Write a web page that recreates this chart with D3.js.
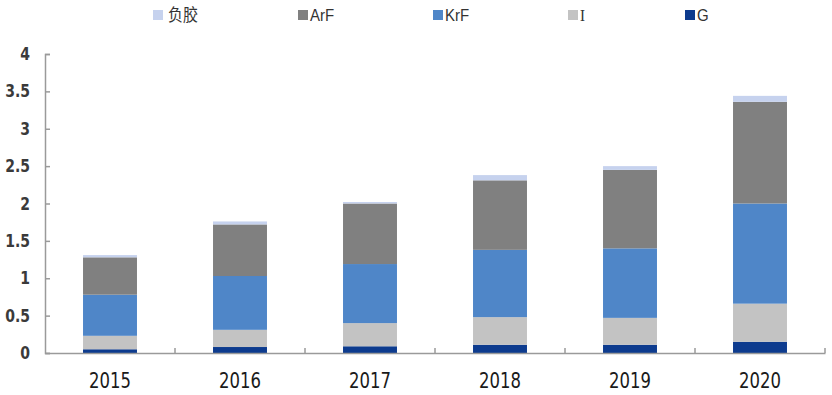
<!DOCTYPE html>
<html><head><meta charset="utf-8">
<script src="https://cdn.jsdelivr.net/npm/d3@7"></script>
<style>body{margin:0;background:#fff}svg{display:block}</style>
</head><body>
<svg id="c" width="832" height="395"></svg>
<script>
const years = ["2015","2016","2017","2018","2019","2020"];
const seriesNames = ["G","I","KrF","ArF","负胶"];
const G   = [0.05,0.08,0.09,0.11,0.11,0.15];
const I   = [0.18,0.23,0.31,0.37,0.36,0.51];
const KrF = [0.55,0.72,0.79,0.90,0.93,1.34];
const ArF = [0.50,0.69,0.81,0.93,1.05,1.36];
const Neg = [0.03,0.04,0.02,0.07,0.05,0.08];
const yTicks = [0,0.5,1,1.5,2,2.5,3,3.5,4];
const legendOrder = ["负胶","ArF","KrF","I","G"];
const colors = {"G":"#0d3b8e","I":"#c3c3c3","KrF":"#4f86c8","ArF":"#808080","负胶":"#c6d2ee"};

(function(){
const rows = years.map((yr,i)=>({year:yr,"G":G[i],"I":I[i],"KrF":KrF[i],"ArF":ArF[i],"负胶":Neg[i]}));
const stack = d3.stack().keys(seriesNames)(rows);

const svg = d3.select("#c");
const mLeft=45, mRight=825, mTop=54, mBottom=353;
const x = d3.scaleBand().domain(years).range([mLeft,mRight]).paddingInner(0.585).paddingOuter(0.2925);
const y = d3.scaleLinear().domain([0,4]).range([mBottom,mTop]);

svg.append("g").selectAll("g").data(stack).join("g")
  .attr("fill",d=>colors[d.key])
  .selectAll("rect").data(d=>d).join("rect")
  .attr("x",d=>x(d.data.year)).attr("width",x.bandwidth())
  .attr("y",d=>y(d[1])).attr("height",d=>y(d[0])-y(d[1]));

// y axis
const ya = svg.append("g").attr("transform",`translate(${mLeft},0)`)
  .call(d3.axisLeft(y).tickValues(yTicks).tickSize(-5).tickFormat(""));
ya.select(".domain").attr("stroke","#9a9a9a").attr("stroke-width",1.5);
ya.selectAll(".tick line").attr("stroke","#9a9a9a").attr("stroke-width",1.5);
svg.append("g").selectAll("text").data(yTicks).join("text")
  .attr("transform",d=>`translate(30,${y(d)}) scale(1,1.2)`)
  .attr("text-anchor","end").attr("dy","0.36em")
  .attr("font-family","DejaVu Sans").attr("font-weight","bold").attr("font-size",14).attr("fill","#3a3a3a")
  .text(d=>d);

// x axis
const xa = svg.append("g").attr("transform",`translate(0,${mBottom})`)
  .call(d3.axisBottom(x).tickSize(0).tickFormat(""));
xa.select(".domain").attr("stroke","#9a9a9a").attr("stroke-width",1.5);
const step = x.step();
const bounds = years.slice(1).map(d=>x(d)-x.paddingInner()*step/2);
xa.selectAll(".bt").data(bounds.concat([mRight])).join("line").attr("class","bt")
  .attr("x1",d=>d).attr("x2",d=>d).attr("y1",0).attr("y2",-5)
  .attr("stroke","#9a9a9a").attr("stroke-width",1.5);
svg.append("g").selectAll("text").data(years).join("text")
  .attr("transform",d=>`translate(${x(d)+x.bandwidth()/2},380.5) scale(1,1.3)`)
  .attr("text-anchor","middle").attr("dy","0.36em")
  .attr("font-family","DejaVu Sans").attr("font-size",16.5).attr("fill","#1a1a1a")
  .text(d=>d);

// legend
const legX = [153,298,433,568,685];
const lg = svg.append("g");
legendOrder.forEach((k,i)=>{
  lg.append("rect").attr("x",legX[i]).attr("y",10).attr("width",10).attr("height",10).attr("fill",colors[k]);
  lg.append("text").attr("transform",`translate(${legX[i]+(k==="负胶"?15:12)},20.5) scale(1,1.1)`).text(k)
    .attr("font-family", k==="负胶" ? "Noto Sans CJK SC" : (k==="I" ? "Liberation Serif" : "Liberation Sans"))
    .attr("font-size",15).attr("fill","#333");
});
})();
</script>
</body></html>
